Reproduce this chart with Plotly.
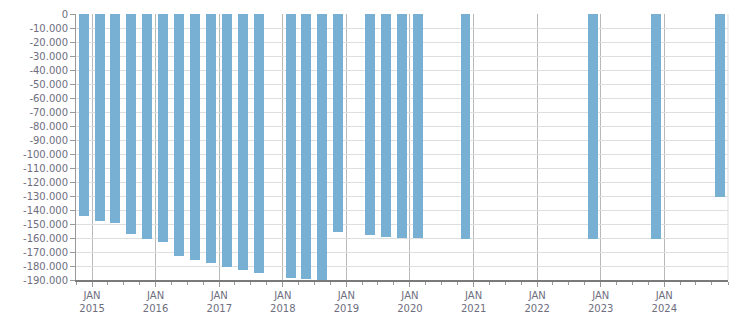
import plotly.graph_objects as go

# Data: quarterly observation dates and values
dates = [
    "2014-11-15", "2015-02-15", "2015-05-15", "2015-08-15", "2015-11-15",
    "2016-02-15", "2016-05-15", "2016-08-15", "2016-11-15",
    "2017-02-15", "2017-05-15", "2017-08-15",
    "2018-02-15", "2018-05-15", "2018-08-15", "2018-11-15",
    "2019-05-15", "2019-08-15", "2019-11-15", "2020-02-15",
    "2020-11-15", "2022-11-15", "2023-11-15", "2024-11-15",
]
values = [
    -144000, -147500, -149000, -157000, -161000,
    -163000, -172500, -175500, -177500,
    -180500, -182500, -185000,
    -188500, -189000, -190000, -155500,
    -157500, -159000, -160000, -160000,
    -160500, -161000, -161000, -131000,
]

year_ticks = ["2015-01-01", "2016-01-01", "2017-01-01", "2018-01-01", "2019-01-01",
              "2020-01-01", "2021-01-01", "2022-01-01", "2023-01-01", "2024-01-01"]
year_labels = ["JAN<br>2015", "JAN<br>2016", "JAN<br>2017", "JAN<br>2018", "JAN<br>2019",
               "JAN<br>2020", "JAN<br>2021", "JAN<br>2022", "JAN<br>2023", "JAN<br>2024"]

y_ticks = list(range(0, -190001, -10000))
y_labels = [("-" if v < 0 else "") + f"{abs(v):,}".replace(",", ".") for v in y_ticks]

text_color = "#6e6e7e"
font = dict(family="DejaVu Sans, Verdana, sans-serif", size=10, color=text_color)

fig = go.Figure()
fig.add_trace(go.Bar(
    x=dates, y=values,
    width=57 * 86400000,
    marker=dict(color="#78b0d3", line=dict(width=0)),
    hoverinfo="x+y",
))

fig.update_layout(
    width=751, height=313,
    margin=dict(l=76, r=23, t=14, b=33),
    paper_bgcolor="white", plot_bgcolor="white",
    showlegend=False,
    font=font,
    bargap=0,
)

fig.update_xaxes(
    type="date",
    range=["2014-10-01", "2025-01-01"],
    tickmode="array", tickvals=year_ticks, ticktext=year_labels,
    showgrid=True, gridcolor="#b8b8b8", gridwidth=1,
    showline=True, linecolor="#7a7a7a", linewidth=2,
    ticks="outside", ticklen=5, tickcolor="#999999",
    minor=dict(ticks="outside", ticklen=3, tickcolor="#999999", dtick="M3",
               tick0="2015-01-01", showgrid=False),
    tickfont=font,
    zeroline=False,
    automargin=False,
    fixedrange=True,
)

fig.update_yaxes(
    range=[-190000, 0],
    tickmode="array", tickvals=y_ticks, ticktext=y_labels,
    showgrid=True, gridcolor="#dedede", gridwidth=1,
    showline=True, linecolor="#999999", linewidth=1,
    ticks="outside", ticklen=5, tickcolor="#999999",
    tickfont=font,
    zeroline=False,
    automargin=False,
    fixedrange=True,
)

# light right border of plot area
fig.add_shape(type="line", xref="paper", yref="paper", x0=1, x1=1, y0=0, y1=1,
              line=dict(color="#dddddd", width=1), layer="below")

fig.write_html("out.html")
